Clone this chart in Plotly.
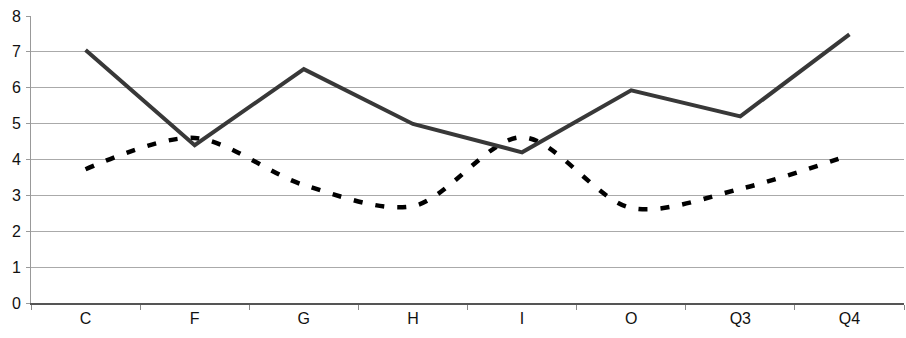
import plotly.graph_objects as go

categories = ["C", "F", "G", "H", "I", "O", "Q3", "Q4"]
series_solid = [7.05, 4.4, 6.52, 4.99, 4.2, 5.93, 5.2, 7.49]
series_dashed = [3.73, 4.6, 3.29, 2.7, 4.62, 2.65, 3.18, 4.12]
y_ticks = [0, 1, 2, 3, 4, 5, 6, 7, 8]

fig = go.Figure()
fig.add_trace(go.Scatter(
    x=categories, y=series_dashed, mode="lines",
    line=dict(color="#000000", width=4.5, dash="9px,13px", shape="spline", smoothing=0.9),
    showlegend=False, hoverinfo="skip",
))
fig.add_trace(go.Scatter(
    x=categories, y=series_solid, mode="lines",
    line=dict(color="#383838", width=4),
    showlegend=False, hoverinfo="skip",
))

fig.update_layout(
    width=906, height=338,
    margin=dict(l=31, r=2, t=16, b=35),
    paper_bgcolor="white", plot_bgcolor="white",
    font=dict(family="Liberation Sans, Arial, sans-serif", size=16, color="#111111"),
)
fig.update_xaxes(
    type="category", range=[-0.5, 7.5], automargin=False,
    showline=True, linecolor="#555555", linewidth=1.5,
    ticks="outside", tickson="boundaries", ticklen=5, tickcolor="#888888",
    showgrid=False, zeroline=False,
    tickfont=dict(size=16),
)
fig.update_yaxes(
    range=[0, 8], tickvals=y_ticks, automargin=False,
    showline=True, linecolor="#999999", linewidth=1,
    ticks="outside", ticklen=4, tickcolor="#999999",
    showgrid=True, gridcolor="#aaaaaa", gridwidth=1,
    zeroline=False, tickfont=dict(size=16), ticklabelstandoff=2,
)

fig.write_html(
    "out.html",
    config={"displayModeBar": False},
    post_script="document.body.style.margin='0';document.body.style.overflow='hidden';",
)
